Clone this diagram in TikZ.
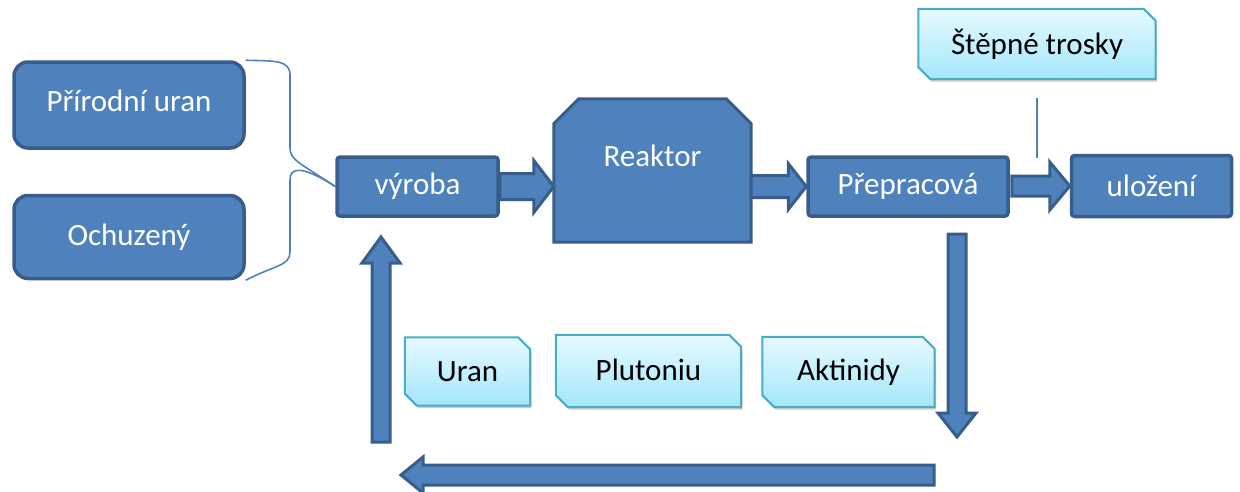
\documentclass[tikz,border=0pt]{standalone}
\usepackage{fontspec}
\setmainfont{Carlito}
\usetikzlibrary{calc,shadows,backgrounds}
\definecolor{bfill}{HTML}{4F81BD}
\definecolor{bline}{HTML}{385D8A}
\definecolor{ltop}{HTML}{E6FAFF}
\definecolor{lbot}{HTML}{A3E6FA}
\definecolor{lline}{HTML}{4BACC6}
\tikzset{
  txt/.style={font=\fontsize{31}{36}\selectfont, inner sep=0pt},
  darkbox/.style={txt, draw=bline, fill=bfill, line width=3.5pt, text=white, rounded corners=3pt},
  lightnode/.style={txt, text=black},
  lightfill/.style={draw=lline, line width=2pt, top color=ltop, bottom color=lbot,
     drop shadow={opacity=0.35, shadow xshift=1.5pt, shadow yshift=-2.5pt, fill=black!60}},
  blockarrow/.style={draw=bline, fill=bfill, line width=3pt, line join=miter},
  bracepath/.style={draw=bfill, line width=1.6pt},
}
\newcommand\snipshape[2]{%
  \path[lightfill] (#1.north west) -- ($(#1.north east)+(-#2,0)$) -- ($(#1.north east)+(0,#2)$)
    -- (#1.south east) -- ($(#1.south west)+(#2,0)$) -- ($(#1.south west)+(0,-#2)$) -- cycle;}
\begin{document}
\begin{tikzpicture}[x=1pt,y=-1pt]
\useasboundingbox (0,0) rectangle (1240,491);
% dark boxes
\node[darkbox, rounded corners=14pt, minimum width=230pt, minimum height=86pt, text depth=8pt] (pu) at (129,105) {Přírodní uran};
\node[darkbox, rounded corners=14pt, minimum width=230pt, minimum height=83pt] (och) at (129,237) {Ochuzený};
\node[darkbox, minimum width=161pt, minimum height=59pt] (vyroba) at (417.5,186.5) {výroba};
\node[txt, minimum width=197pt, minimum height=143pt, text=white] (reaktor) at (652.5,170.5) {};
\node[darkbox, minimum width=200pt, minimum height=59pt] (prep) at (908,186.5) {Přepracová};
\node[darkbox, minimum width=160pt, minimum height=61pt] (ulozeni) at (1151.5,186) {uložení};
% reaktor shape
\draw[blockarrow] (reaktor.south west) -- ($(reaktor.north west)+(0,25)$) -- ($(reaktor.north west)+(25,0)$)
  -- ($(reaktor.north east)+(-25,0)$) -- ($(reaktor.north east)+(0,25)$) -- (reaktor.south east) -- cycle;
\node[txt, text=white] (reaktorlbl) at ($(reaktor.center)+(0,-15)$) {Reaktor};
% light boxes
\node[lightnode, minimum width=237pt, minimum height=70pt] (stepne) at (1037,44) {Štěpné trosky};
\node[lightnode, minimum width=125pt, minimum height=68pt] (uran) at (467.5,371.5) {Uran};
\node[lightnode, minimum width=185pt, minimum height=72pt] (plut) at (648.5,371) {\raisebox{3pt}{Plutoniu}};
\node[lightnode, minimum width=172pt, minimum height=70pt] (akt) at (848.5,372) {Aktinidy};
\begin{scope}[on background layer]
  \snipshape{stepne}{12}
  \snipshape{uran}{12}
  \snipshape{plut}{12}
  \snipshape{akt}{12}
\end{scope}
% brace
\path[bracepath] (pu.north east) .. controls (275,61) and (290,60) .. (290,75) -- (290,148)
  .. controls (290,160) and (300,163) .. (vyroba.west);
\path[bracepath] (vyroba.west) .. controls (300,164) and (290,168) .. (290,180) -- (290,252)
  .. controls (290,266) and (275,265) .. (och.south east);
% vertical line from Štěpné trosky
\coordinate (vtop) at (1037,98);
\coordinate (vbot) at (1037,158);
\draw[draw=bfill, line width=1.4pt] (vtop) -- (vbot);
% horizontal block arrows
\draw[blockarrow] let \p1=(vyroba.east), \p2=(reaktor.west) in
  (\x1,\y1+13pt) -- (\x2-20pt,\y1+13pt) -- (\x2-20pt,\y1+26pt) -- (\x2,\y1) -- (\x2-20pt,\y1-26pt)
  -- (\x2-20pt,\y1-13pt) -- (\x1,\y1-13pt) -- cycle;
\draw[blockarrow] let \p1=(reaktor.east), \p2=(prep.west) in
  (\x1,\y2+11pt) -- (\x2-18pt,\y2+11pt) -- (\x2-18pt,\y2+23pt) -- (\x2,\y2) -- (\x2-18pt,\y2-23pt)
  -- (\x2-18pt,\y2-11pt) -- (\x1,\y2-11pt) -- cycle;
\draw[blockarrow] let \p1=(prep.east), \p2=(ulozeni.west) in
  (\x1+2pt,\y2+10pt) -- (\x2-20pt,\y2+10pt) -- (\x2-20pt,\y2+24pt) -- (\x2,\y2) -- (\x2-20pt,\y2-24pt)
  -- (\x2-20pt,\y2-10pt) -- (\x1+2pt,\y2-10pt) -- cycle;
% return loop arrows
\coordinate (dtop) at (957,234);
\coordinate (dtip) at (957,437);
\coordinate (lstart) at (934,475);
\coordinate (ltip) at (401,475);
\coordinate (ubot) at (381,442);
\coordinate (utip) at (381,237);
\draw[blockarrow] let \p1=(dtop), \p2=(dtip) in
  (\x1-9pt,\y1) -- (\x1+9pt,\y1) -- (\x1+9pt,\y2+24pt) -- (\x1+19pt,\y2+24pt) -- (\x2,\y2)
  -- (\x1-19pt,\y2+24pt) -- (\x1-9pt,\y2+24pt) -- cycle;
\draw[blockarrow] let \p1=(lstart), \p2=(ltip) in
  (\x1,\y1+10pt) -- (\x2+22pt,\y1+10pt) -- (\x2+22pt,\y1+18pt) -- (\x2,\y1) -- (\x2+22pt,\y1-18pt)
  -- (\x2+22pt,\y1-10pt) -- (\x1,\y1-10pt) -- cycle;
\draw[blockarrow] let \p1=(ubot), \p2=(utip) in
  (\x1-9pt,\y1) -- (\x1+9pt,\y1) -- (\x1+9pt,\y2-26pt) -- (\x1+19pt,\y2-26pt) -- (\x2,\y2)
  -- (\x1-19pt,\y2-26pt) -- (\x1-9pt,\y2-26pt) -- cycle;
\end{tikzpicture}
\end{document}
